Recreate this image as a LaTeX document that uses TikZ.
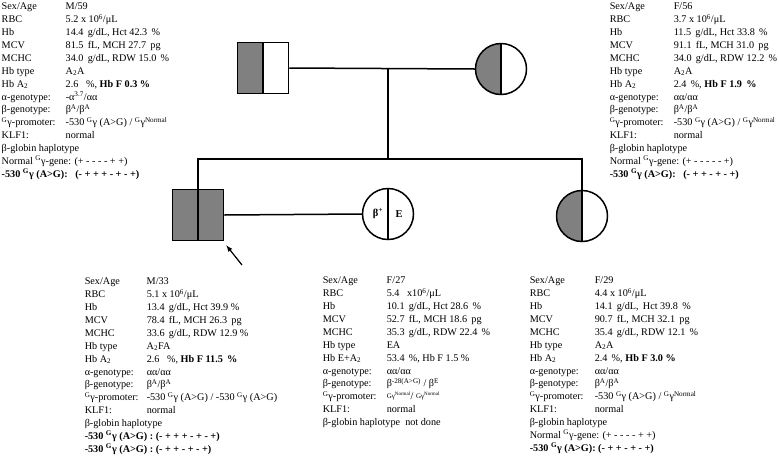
\documentclass[tikz,border=0pt]{standalone}
\usepackage{fontspec}
\setmainfont{Liberation Serif}
\usepackage{tikz}
\usetikzlibrary{positioning}

\newcommand{\gGam}{\textsuperscript{G}γ}
\newcommand{\Atwo}{A\textsubscript{2}}
\newcommand{\smallNorm}{\raisebox{1.5pt}{\fontsize{7}{8}\selectfont Gγ\textsuperscript{Normal}}}

\tikzset{
  ped/.style={draw=black, line width=1.5pt, minimum size=51pt, inner sep=0pt},
  male/.style={ped, rectangle},
  female/.style={ped, circle},
  halfshade/.style={path picture={
      \fill[gray] (path picture bounding box.south west) rectangle (path picture bounding box.north);
      \draw[line width=1.5pt] (path picture bounding box.north) -- (path picture bounding box.south);}},
  fullshade/.style={fill=gray, path picture={
      \draw[line width=1.5pt] (path picture bounding box.north) -- (path picture bounding box.south);}},
  halfline/.style={path picture={
      \draw[line width=1.5pt] (path picture bounding box.north) -- (path picture bounding box.south);}},
  data/.style={anchor=north west, inner sep=0pt, font=\fontsize{10.2}{12.9}\selectfont}
}

\begin{document}
\begin{tikzpicture}[x=1pt, y=-1pt, line width=1.5pt]
    \useasboundingbox (0,0) rectangle (779,456);

    \node[male, halfshade] (father) at (263,68) {};
    \node[female, halfshade] (mother) at (501,69) {};
    \node[male, fullshade] (proband) at (198,215) {};
    \node[female, halfline] (spouse) at (388,214) {};
    \node[female, halfshade] (sister) at (582,216) {};
    \node[font=\bfseries\fontsize{10.5}{12}\selectfont] (spouseL) at ([xshift=-10pt]spouse.center) {β\textsuperscript{+}};
    \node[font=\bfseries\fontsize{10.5}{12}\selectfont] (spouseR) at ([xshift=11pt]spouse.center) {E};

    \coordinate (mid) at (388,69);
    \coordinate (sib) at (388,159);
    \coordinate (arrtail) at (242,265);

    \draw[color=black] (father.east) -- (mother.west);
    \draw[color=black] (mid) -- (sib);
    \draw[color=black] (proband.north) |- (sib) -| (sister.north);
    \draw[color=black] (proband.east) -- (spouse.west);
    \draw[color=black, line width=1.2pt, -latex] (arrtail) -- ([shift={(2,4)}]proband.south east);

    \node[data] (fatherdata) at (1,0) {\begin{tabular}{@{}p{64pt}@{}l@{}}
      Sex/Age & M/59\\
      RBC & 5.2 x 10\textsuperscript{6}/μL\\
      Hb & 14.4\, g/dL, Hct 42.3\, \%\\
      MCV & 81.5\, fL, MCH 27.7\, pg\\
      MCHC & 34.0\, g/dL, RDW 15.0\, \%\\
      Hb type & \Atwo A\\
      Hb \Atwo & 2.6~~ \%, \textbf{Hb F 0.3 \%}\\
      α-genotype: & -α\textsuperscript{3.7}/αα\\
      β-genotype: & β\textsuperscript{A}/β\textsuperscript{A}\\
      \gGam-promoter: & -530 \gGam\ (A>G) / \gGam\textsuperscript{Normal}\\
      KLF1: & normal\\
      \multicolumn{2}{@{}l@{}}{β-globin haplotype}\\
      \multicolumn{2}{@{}l@{}}{Normal \gGam-gene: (+ - - - - + +)}\\
      \multicolumn{2}{@{}l@{}}{\textbf{-530 \gGam\ (A>G):~~ (- + + + - + - +)}}
    \end{tabular}};

    \node[data] (motherdata) at (609,0) {\begin{tabular}{@{}p{64pt}@{}l@{}}
      Sex/Age & F/56\\
      RBC & 3.7 x 10\textsuperscript{6}/μL\\
      Hb & 11.5\, g/dL, Hct 33.8\, \%\\
      MCV & 91.1\, fL, MCH 31.0\, pg\\
      MCHC & 34.0\, g/dL, RDW 12.2\, \%\\
      Hb type & \Atwo A\\
      Hb \Atwo & 2.4\, \%, \textbf{Hb F 1.9\, \%}\\
      α-genotype: & αα/αα\\
      β-genotype: & β\textsuperscript{A}/β\textsuperscript{A}\\
      \gGam-promoter: & -530 \gGam\ (A>G) / \gGam\textsuperscript{Normal}\\
      KLF1: & normal\\
      \multicolumn{2}{@{}l@{}}{β-globin haplotype}\\
      \multicolumn{2}{@{}l@{}}{Normal \gGam-gene: (+ - - - - - +)}\\
      \multicolumn{2}{@{}l@{}}{\textbf{-530 \gGam\ (A>G):~~ (- + + - + - +)}}
    \end{tabular}};

    \node[data] (probanddata) at (84,275) {\begin{tabular}{@{}p{62pt}@{}l@{}}
      Sex/Age & M/33\\
      RBC & 5.1 x 10\textsuperscript{6}/μL\\
      Hb & 13.4\, g/dL, Hct 39.9 \%\\
      MCV & 78.4\, fL, MCH 26.3\, pg\\
      MCHC & 33.6\, g/dL, RDW 12.9 \%\\
      Hb type & \Atwo FA\\
      Hb \Atwo & 2.6~~ \%, \textbf{Hb F 11.5\, \%}\\
      α-genotype: & αα/αα\\
      β-genotype: & β\textsuperscript{A}/β\textsuperscript{A}\\
      \gGam-promoter: & -530 \gGam\ (A>G) / -530 \gGam\ (A>G)\\
      KLF1: & normal\\
      \multicolumn{2}{@{}l@{}}{β-globin haplotype}\\
      \multicolumn{2}{@{}l@{}}{\textbf{-530 \gGam\ (A>G) : (- + + + - + - +)}}\\
      \multicolumn{2}{@{}l@{}}{\textbf{-530 \gGam\ (A>G) : (- + + - + - +)}}
    \end{tabular}};

    \node[data] (spousedata) at (322,274) {\begin{tabular}{@{}p{64pt}@{}l@{}}
      Sex/Age & F/27\\
      RBC & 5.4~~ x10\textsuperscript{6}/μL\\
      Hb & 10.1\, g/dL, Hct 28.6\, \%\\
      MCV & 52.7\, fL, MCH 18.6\, pg\\
      MCHC & 35.3\, g/dL, RDW 22.4\, \%\\
      Hb type & EA\\
      Hb E+\Atwo & 53.4\, \%, Hb F 1.5 \%\\
      α-genotype: & αα/αα\\
      β-genotype: & β\textsuperscript{-28(A>G)} / β\textsuperscript{E}\\
      \gGam-promoter: & \smallNorm/ \smallNorm\\
      KLF1: & normal\\
      \multicolumn{2}{@{}l@{}}{β-globin haplotype~ not done}
    \end{tabular}};

    \node[data] (sisterdata) at (529,274) {\begin{tabular}{@{}p{65pt}@{}l@{}}
      Sex/Age & F/29\\
      RBC & 4.4 x 10\textsuperscript{6}/μL\\
      Hb & 14.1\, g/dL,\, Hct 39.8\, \%\\
      MCV & 90.7\, fL, MCH 32.1\, pg\\
      MCHC & 35.4\, g/dL, RDW 12.1\, \%\\
      Hb type & \Atwo A\\
      Hb \Atwo & 2.4\, \%, \textbf{Hb F 3.0 \%}\\
      α-genotype: & αα/αα\\
      β-genotype: & β\textsuperscript{A}/β\textsuperscript{A}\\
      \gGam-promoter: & -530 \gGam\ (A>G) / \gGam\textsuperscript{Normal}\\
      KLF1: & normal\\
      \multicolumn{2}{@{}l@{}}{β-globin haplotype}\\
      \multicolumn{2}{@{}l@{}}{Normal \gGam-gene: (+ - - - - + +)}\\
      \multicolumn{2}{@{}l@{}}{\textbf{-530 \gGam\ (A>G): (- + + - + - +)}}
    \end{tabular}};
\end{tikzpicture}
\end{document}
